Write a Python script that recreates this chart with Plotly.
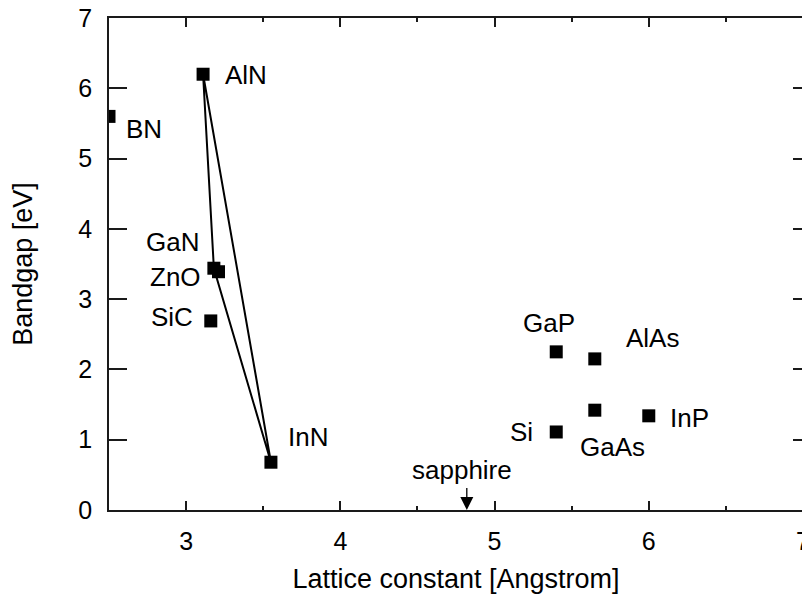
import plotly.graph_objects as go

# ---- data ----
materials = ["AlN", "BN", "GaN", "ZnO", "SiC", "InN", "GaP", "AlAs", "GaAs", "InP", "Si"]
lattice = [3.11, 2.50, 3.18, 3.21, 3.16, 3.55, 5.40, 5.65, 5.65, 6.00, 5.40]
bandgap = [6.20, 5.60, 3.44, 3.39, 2.69, 0.68, 2.25, 2.15, 1.42, 1.34, 1.11]

# nitride alloy triangle (AlN -> GaN -> InN -> AlN)
tri_names = ["AlN", "GaN", "InN", "AlN"]

sapphire_x = 4.82
sapphire_label = "sapphire"

x_ticks = [3, 4, 5, 6, 7]
y_ticks = [0, 1, 2, 3, 4, 5, 6, 7]

# ---- label styling (pixel offsets from marker) ----
label_style = {
    "AlN": dict(xanchor="left", xshift=20, yshift=-1),
    "BN": dict(xanchor="left", xshift=15, yshift=-13),
    "GaN": dict(xanchor="right", xshift=-13, yshift=26),
    "ZnO": dict(xanchor="right", xshift=-16, yshift=-5),
    "SiC": dict(xanchor="right", xshift=-16, yshift=4),
    "InN": dict(xanchor="left", xshift=15, yshift=25),
    "GaP": dict(xanchor="center", xshift=-7, yshift=29),
    "AlAs": dict(xanchor="left", xshift=29, yshift=21),
    "GaAs": dict(xanchor="center", xshift=18, yshift=-37),
    "InP": dict(xanchor="left", xshift=19, yshift=-2),
    "Si": dict(xanchor="right", xshift=-21, yshift=0),
}

FONT = "Liberation Sans, Arial, sans-serif"
LINE_C = "#1a1a1a"

idx = {m: i for i, m in enumerate(materials)}
tri_x = [lattice[idx[m]] for m in tri_names]
tri_y = [bandgap[idx[m]] for m in tri_names]

fig = go.Figure()
fig.add_trace(go.Scatter(x=tri_x, y=tri_y, mode="lines",
                         line=dict(color="black", width=2), hoverinfo="skip"))
fig.add_trace(go.Scatter(x=lattice, y=bandgap, mode="markers", text=materials,
                         marker=dict(symbol="square", size=13, color="black", line=dict(width=0)),
                         cliponaxis=True))

annotations = []
for m, x, y in zip(materials, lattice, bandgap):
    st = label_style[m]
    annotations.append(dict(x=x, y=y, xref="x", yref="y", text=m, showarrow=False,
                            xanchor=st["xanchor"], yanchor="middle",
                            xshift=st["xshift"], yshift=st["yshift"],
                            font=dict(family=FONT, size=26, color="black")))
# sapphire arrow
annotations.append(dict(x=sapphire_x, y=0, xref="x", yref="y", text=" ", showarrow=True,
                        ax=0, ay=-26, arrowhead=2, arrowsize=2, arrowwidth=1.3,
                        arrowcolor="black", font=dict(size=4)))
annotations.append(dict(x=sapphire_x, y=0, xref="x", yref="y", text=sapphire_label,
                        showarrow=False, xanchor="center", yanchor="middle",
                        xshift=-5, yshift=40,
                        font=dict(family=FONT, size=26, color="black")))

fig.update_layout(
    template="none",
    width=802, height=588,
    margin=dict(l=101, r=7, t=10, b=86, autoexpand=False),
    plot_bgcolor="white", paper_bgcolor="white",
    showlegend=False,
    font=dict(family=FONT, size=25, color="black"),
    annotations=annotations,
    xaxis=dict(range=[2.5, 7], tickvals=x_ticks, ticks="inside", ticklen=9, tickwidth=1.5,
               tickcolor=LINE_C, showline=True, linecolor=LINE_C, linewidth=1.5,
               mirror="ticks", showgrid=False, zeroline=False, automargin=False,
               ticklabeloverflow="allow",
               minor=dict(dtick=0.5, ticks="inside", ticklen=4, tickwidth=1.5, tickcolor=LINE_C,
                          showgrid=False),
               ticklabelstandoff=8,
               title=dict(text="Lattice constant [Angstrom]", font=dict(family=FONT, size=27),
                          standoff=15)),
    yaxis=dict(range=[0, 7], tickvals=y_ticks, ticks="inside", ticklen=18, tickwidth=1.5,
               tickcolor=LINE_C, showline=True, linecolor=LINE_C, linewidth=1.5,
               mirror=False, showgrid=False, zeroline=False, automargin=False,
               ticklabeloverflow="allow",
               ticklabelstandoff=10,
               title=dict(text="Bandgap [eV]", font=dict(family=FONT, size=27), standoff=50)),
    yaxis2=dict(range=[0, 7], tickvals=y_ticks, ticks="inside", ticklen=10, tickwidth=1.5,
                tickcolor=LINE_C, showline=True, linecolor=LINE_C, linewidth=1.5,
                overlaying="y", side="right", showticklabels=False, showgrid=False,
                zeroline=False, matches="y", automargin=False),
)
# dummy trace so yaxis2 renders
fig.add_trace(go.Scatter(x=[None], y=[None], yaxis="y2", showlegend=False, hoverinfo="skip"))

fig.write_html("out.html")
